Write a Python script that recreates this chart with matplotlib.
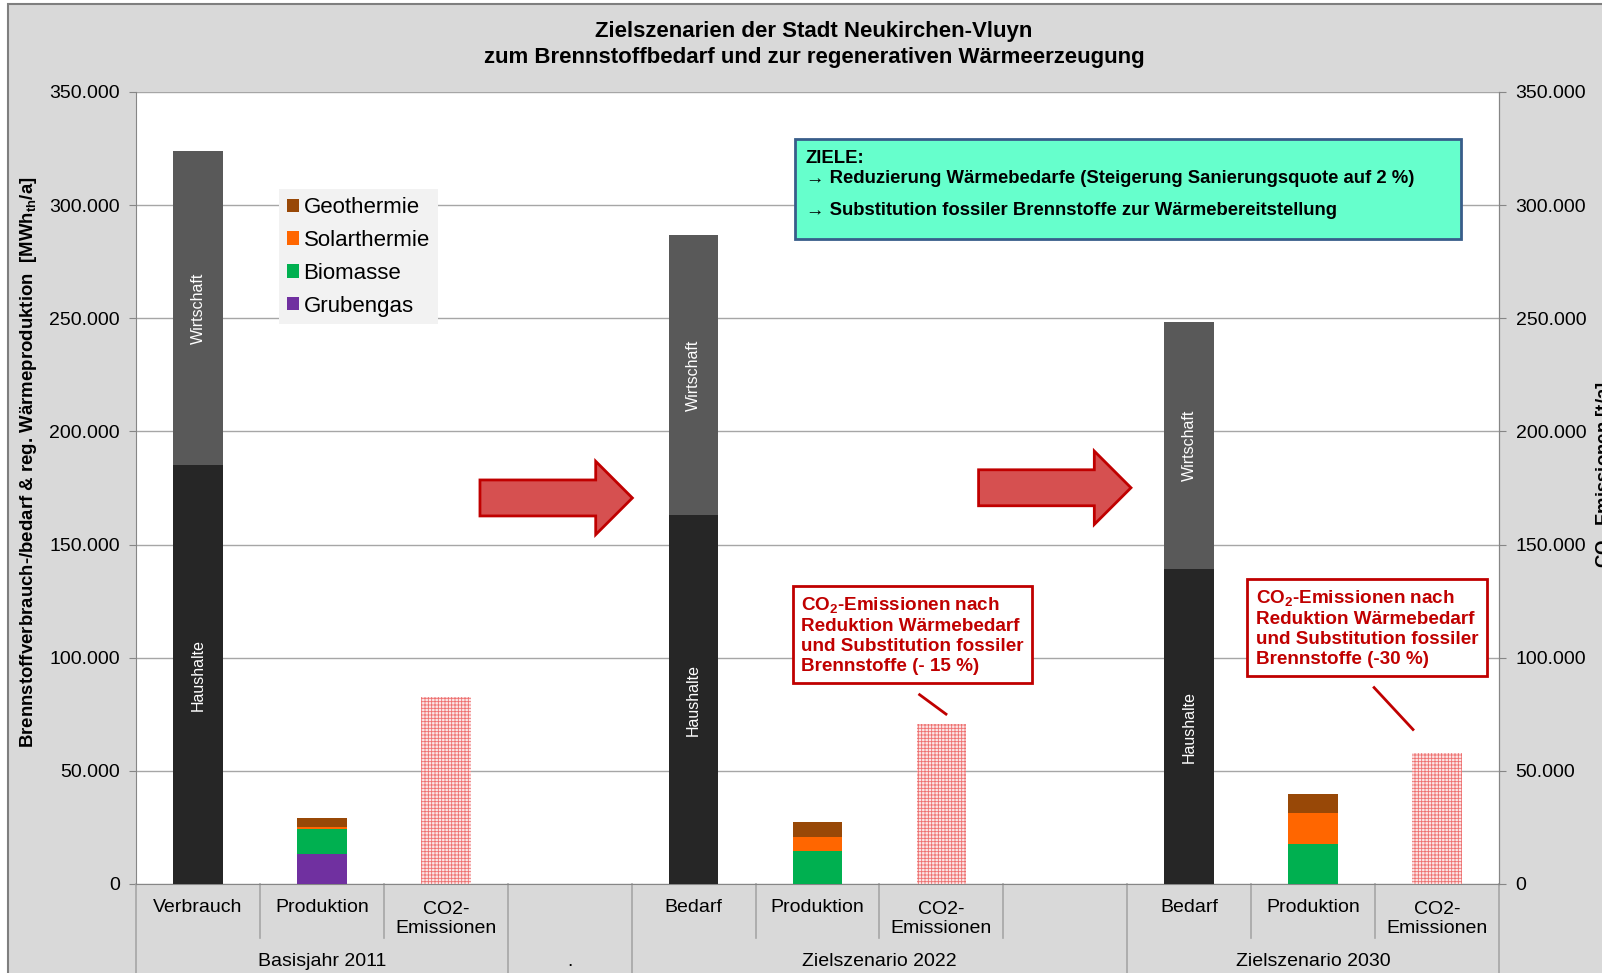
import numpy as np
import matplotlib.pyplot as plt
from matplotlib.patches import Rectangle, Polygon
from matplotlib.lines import Line2D
import matplotlib.transforms as mtransforms

plt.rcParams['font.family'] = ['Liberation Sans', 'DejaVu Sans']
plt.rcParams['mathtext.fontset'] = 'custom'
plt.rcParams['mathtext.rm'] = 'Liberation Sans'
plt.rcParams['mathtext.bf'] = 'Liberation Sans:bold'
plt.rcParams['mathtext.it'] = 'Liberation Sans:italic'
plt.rcParams['hatch.linewidth'] = 0.6

#==================Daten==================
categories = ["Verbrauch", "Produktion", "CO2-\nEmissionen", "",
              "Bedarf", "Produktion", "CO2-\nEmissionen", "",
              "Bedarf", "Produktion", "CO2-\nEmissionen"]
groups = ["Basisjahr 2011", ".", "Zielszenario 2022", "Zielszenario 2030"]
group_spans = [(0, 3), (3, 4), (4, 8), (8, 11)]

demand_pos = [0, 4, 8]
prod_pos = [1, 5, 9]
co2_pos = [2, 6, 10]

haushalte = [185000, 163000, 139000]
wirtschaft = [139000, 124000, 109500]

grubengas = [13300, 0, 0]
biomasse = [11000, 14600, 17500]
solarthermie = [700, 6300, 13700]
geothermie = [4100, 6300, 8500]

co2 = [82800, 70500, 58000]

yticks = np.arange(0, 350001, 50000)

#==================Farben==================
bg = "#d9d9d9"
c_haus, c_wirt = "#262626", "#595959"
c_grube, c_bio, c_solar, c_geo = "#7030a0", "#00b050", "#ff6600", "#984807"
red = "#c00000"

fig = plt.figure(figsize=(16.02, 9.73), dpi=100, facecolor="white")
# grauer Diagrammbereich mit Rahmen
fig.patches.append(Rectangle((8/1602, -0.1), 1.2, 1.1 - 4/973, transform=fig.transFigure,
                             facecolor=bg, edgecolor="#7f7f7f", lw=1.5, zorder=-5))

ax = fig.add_axes([136/1602, 1-884/973, 1363/1602, 792/973])
ax.set_facecolor("white")
w = 0.4

ax.bar(demand_pos, haushalte, w, color=c_haus, zorder=3)
ax.bar(demand_pos, wirtschaft, w, bottom=haushalte, color=c_wirt, zorder=3)
for p, h, wi in zip(demand_pos, haushalte, wirtschaft):
    ax.text(p, h/2, "Haushalte", rotation=90, color="white", fontsize=11.5, ha="center", va="center", zorder=4)
    ax.text(p, h + wi/2, "Wirtschaft", rotation=90, color="white", fontsize=11.5, ha="center", va="center", zorder=4)

b = np.zeros(3)
bars = {}
for name, vals, col in [("Grubengas", grubengas, c_grube), ("Biomasse", biomasse, c_bio),
                        ("Solarthermie", solarthermie, c_solar), ("Geothermie", geothermie, c_geo)]:
    bars[name] = ax.bar(prod_pos, vals, w, bottom=b, color=col, label=name, zorder=3)
    b += np.array(vals)

# CO2-Emissionen: fein gerastert
ax.bar(co2_pos, co2, w, facecolor="#fce6e6", edgecolor="#ee7070", hatch="+++++", lw=0, zorder=3)

ax.set_xlim(-0.5, len(categories) - 0.5)
ax.set_ylim(0, 350000)
ax.set_yticks(yticks)
ax.set_yticklabels([f"{v:,}".replace(",", ".") for v in yticks], fontsize=14)
ax.set_xticks([])
ax.grid(axis="y", color="#a6a6a6", lw=1, zorder=0)
ax.set_axisbelow(True)
ax.spines["top"].set_visible(False)
for s in ["left", "right", "bottom"]:
    ax.spines[s].set_color("#868686")
ax.tick_params(axis="y", length=5, color="#868686", pad=6.5)

ax2 = ax.twinx()
ax2.set_ylim(0, 350000)
ax2.set_yticks(yticks)
ax2.set_yticklabels([f"{v:,}".replace(",", ".") for v in yticks], fontsize=14)
ax2.tick_params(axis="y", length=5, color="#868686", pad=7)
for s in ["top", "left", "bottom"]:
    ax2.spines[s].set_visible(False)
ax2.spines["right"].set_color("#868686")

# Kategorienachse mit zwei Ebenen
tr = mtransforms.blended_transform_factory(ax.transData, fig.transFigure)
y_axis0 = 1 - 884/973
for i, lab in enumerate(categories):
    ax.text(i, 1 - 919/973 if "\n" in lab else 1 - 908/973, lab, transform=tr,
            ha="center", va="center", fontsize=14, linespacing=1.2)
for g, (s, e) in zip(groups, group_spans):
    ax.text((s + e - 1) / 2, 1 - 961/973, g, transform=tr, ha="center", va="center", fontsize=14)
long_b = [s - 0.5 for s, e in group_spans] + [len(categories) - 0.5]
for k in range(len(categories) + 1):
    xb = k - 0.5
    y_end = -0.01 if xb in long_b else 1 - 938/973
    ax.add_line(Line2D([xb, xb], [y_axis0, y_end], transform=tr, color="#a6a6a6", lw=1.2, clip_on=False))

# Legende
h = [bars[n] for n in ["Geothermie", "Solarthermie", "Biomasse", "Grubengas"]]
leg = ax.legend(h, ["Geothermie", "Solarthermie", "Biomasse", "Grubengas"], loc="upper left",
                bbox_to_anchor=(0.105, 0.877), fontsize=16, frameon=True, facecolor="#f2f2f2",
                edgecolor="none", framealpha=1, fancybox=False, handlelength=0.55, handleheight=0.55,
                handletextpad=0.2, labelspacing=0.53, borderpad=0.35, borderaxespad=0)
leg.set_zorder(6)

# Pfeile
for xt, yc in [(2.276, 170600), (6.30, 175100)]:
    hl, L = 0.296, 1.23
    bh, hh = 7950, 16200
    pts = [(xt, yc - bh), (xt + L - hl, yc - bh), (xt + L - hl, yc - hh), (xt + L, yc),
           (xt + L - hl, yc + hh), (xt + L - hl, yc + bh), (xt, yc + bh)]
    ax.add_patch(Polygon(pts, closed=True, facecolor="#d65050", edgecolor=red, lw=2, zorder=5))

# Zielbox
ax.add_patch(Rectangle((4.818, 285050), 5.376, 44190, facecolor="#66ffcc", edgecolor="#385d8a", lw=2, zorder=5))
for yy, t in [(320500, "ZIELE:"),
              (311650, "\u2192 Reduzierung Wärmebedarfe (Steigerung Sanierungsquote auf 2 %)"),
              (297640, "\u2192 Substitution fossiler Brennstoffe zur Wärmebereitstellung")]:
    ax.text(4.907, yy, t, fontsize=13.3, fontweight="bold", ha="left", va="center", zorder=6)

# Hinweise CO2-Reduktion
for (xc, yc), pct, line in [((5.765, 110040), "(- 15 %)", ([5.824, 6.037], [83660, 75080])),
                            ((9.435, 113220), "(-30 %)", ([9.492, 9.806], [86800, 68280]))]:
    ax.text(xc, yc, "CO$_\\mathbf{2}$-Emissionen nach\nReduktion Wärmebedarf\nund Substitution fossiler\nBrennstoffe " + pct,
            fontsize=13.6, fontweight="bold", color=red, ha="center", va="center", multialignment="left",
            linespacing=1.22, zorder=6,
            bbox=dict(boxstyle="square,pad=0.45", facecolor="white", edgecolor=red, lw=2))
    ax.plot(line[0], line[1], color=red, lw=2, zorder=6)

# Titel und Achsentitel
fig.text(0.508, 1 - 44.5/973, "Zielszenarien der Stadt Neukirchen-Vluyn\nzum Brennstoffbedarf und zur regenerativen Wärmeerzeugung",
         ha="center", va="center", fontsize=16, fontweight="bold", linespacing=1.3)
fig.text(0.018, 1 - 462/973, "Brennstoffverbrauch-/bedarf & reg. Wärmeproduktion  [MWh$_\\mathbf{th}$/a]",
         rotation=90, ha="center", va="center", fontsize=13.4, fontweight="bold")
fig.text(1.0015, 0.512, "CO$_\\mathbf{2}$-Emissionen [t/a]", rotation=90, ha="center", va="center",
         fontsize=13.4, fontweight="bold")

fig.savefig("out.png", dpi=100, facecolor=fig.get_facecolor())
